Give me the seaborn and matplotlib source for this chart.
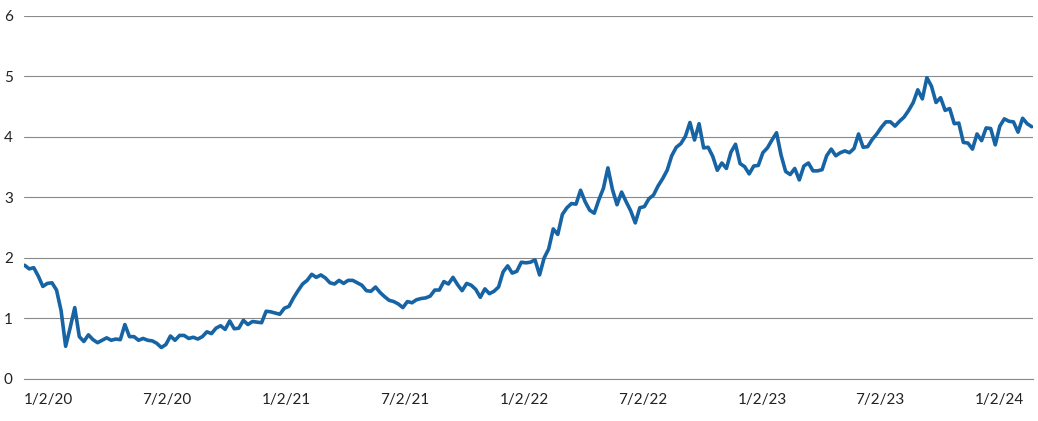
import pandas as pd
import matplotlib
matplotlib.use("Agg")
import matplotlib.pyplot as plt
import seaborn as sns

# weekly (Friday) readings, 1/3/20 .. 3/29/24
y2020 = [1.88, 1.82, 1.84, 1.70, 1.53,
         1.58, 1.59, 1.47, 1.13,
         0.54, 0.85, 1.18, 0.70,
         0.62, 0.73, 0.65, 0.60,
         0.64, 0.68, 0.64, 0.66, 0.65,
         0.90, 0.70, 0.70, 0.64,
         0.67, 0.64, 0.63, 0.59, 0.52,
         0.57, 0.71, 0.64, 0.72,
         0.72, 0.67, 0.69, 0.66,
         0.70, 0.78, 0.75, 0.84, 0.88,
         0.82, 0.96, 0.83, 0.84,
         0.97, 0.90, 0.95, 0.94]
y2021 = [0.93, 1.12, 1.11, 1.09, 1.07,
         1.17, 1.20, 1.34, 1.46,
         1.57, 1.63, 1.73, 1.68,
         1.72, 1.67, 1.59, 1.57, 1.63,
         1.58, 1.63, 1.63, 1.59,
         1.55, 1.46, 1.45, 1.52,
         1.43, 1.36, 1.30, 1.28, 1.24,
         1.18, 1.28, 1.26, 1.31,
         1.33, 1.34, 1.37, 1.47,
         1.47, 1.61, 1.57, 1.68, 1.56,
         1.46, 1.58, 1.55, 1.48,
         1.35, 1.49, 1.41, 1.45, 1.52]
y2022 = [1.77, 1.87, 1.75, 1.78,
         1.93, 1.92, 1.93, 1.97,
         1.72, 2.00, 2.15, 2.48,
         2.39, 2.72, 2.83, 2.90, 2.89,
         3.12, 2.93, 2.79, 2.74,
         2.96, 3.15, 3.49, 3.13,
         2.88, 3.09, 2.93, 2.78, 2.58,
         2.83, 2.85, 2.98, 3.04,
         3.19, 3.31, 3.45, 3.69, 3.83,
         3.89, 4.01, 4.24, 3.95,
         4.22, 3.82, 3.83, 3.68,
         3.45, 3.57, 3.48, 3.75, 3.88]
y2023 = [3.56, 3.51, 3.39, 3.52,
         3.53, 3.74, 3.82, 3.95,
         4.07, 3.70, 3.43, 3.38, 3.48,
         3.29, 3.52, 3.57, 3.44,
         3.44, 3.46, 3.69, 3.80,
         3.69, 3.74, 3.77, 3.74, 3.81,
         4.05, 3.83, 3.84, 3.96,
         4.05, 4.16, 4.25, 4.25,
         4.18, 4.26, 4.33, 4.44, 4.57,
         4.78, 4.63, 4.98, 4.84,
         4.57, 4.65, 4.44, 4.47,
         4.22, 4.23, 3.91, 3.90, 3.80]
y2024 = [4.05, 3.94, 4.15, 4.14,
         3.87, 4.18, 4.30, 4.26,
         4.25, 4.08, 4.31, 4.22, 4.17]

tick_labels = ["1/2/20", "7/2/20", "1/2/21", "7/2/21", "1/2/22",
               "7/2/22", "1/2/23", "7/2/23", "1/2/24"]
y_ticks = [0, 1, 2, 3, 4, 5, 6]

values = y2020 + y2021 + y2022 + y2023 + y2024
df = pd.DataFrame({
    "date": pd.date_range("2020-01-03", periods=len(values), freq="W-FRI"),
    "value": values,
})

sns.set_style("white")
plt.rcParams["font.family"] = ["Lato", "DejaVu Sans"]

fig = plt.figure(figsize=(10.38, 4.21), dpi=100)
ax = fig.add_axes([0.0231, 0.0998, 0.9721, 0.8622])

sns.lineplot(data=df, x="date", y="value", ax=ax, color="#1764a5", linewidth=2.6)

ax.set_ylim(0, 6)
ax.set_yticks(y_ticks)
ax.set_xlim(pd.Timestamp("2020-01-02"), pd.Timestamp("2024-03-31"))
ax.set_xticks(pd.to_datetime(tick_labels, format="%m/%d/%y"))
ax.set_xticklabels(tick_labels, ha="left")
ax.yaxis.grid(True, color="#8a8a8a", linewidth=0.8)
ax.set_axisbelow(True)
ax.set_xlabel("")
ax.set_ylabel("")

for side in ["top", "right", "left"]:
    ax.spines[side].set_visible(False)
ax.spines["bottom"].set_color("#8a8a8a")
ax.spines["bottom"].set_linewidth(0.8)

ax.tick_params(axis="x", length=5, width=0.8, color="#8a8a8a",
               labelsize=11, labelcolor="#222222", pad=5)
ax.tick_params(axis="y", length=0, labelsize=11, labelcolor="#222222", pad=8)

fig.savefig("out.png", dpi=100)
